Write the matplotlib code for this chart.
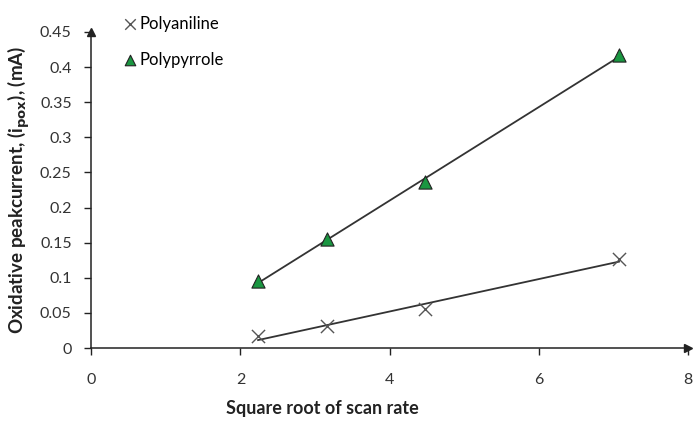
import numpy as np
import matplotlib
matplotlib.use("Agg")
import matplotlib.pyplot as plt

plt.rcParams["font.family"] = ["Lato", "DejaVu Sans"]

# square root of scan rate
sqrt_rate = [2.236, 3.162, 4.472, 7.071]
polyaniline = [0.017, 0.031, 0.055, 0.127]
polypyrrole = [0.095, 0.155, 0.236, 0.417]

x_ticks = [0, 2, 4, 6, 8]
y_ticks = [0, 0.05, 0.1, 0.15, 0.2, 0.25, 0.3, 0.35, 0.4, 0.45]
y_ticklabels = ["0", "0.05", "0.1", "0.15", "0.2", "0.25", "0.3", "0.35", "0.4", "0.45"]

fig = plt.figure(figsize=(6.96, 4.26), dpi=100)
ax = fig.add_axes([0.131, 0.183, 0.858, 0.742])

x = np.array(sqrt_rate)
xs = np.array([x.min(), x.max()])
for ys in (polyaniline, polypyrrole):
    k, b = np.polyfit(x, ys, 1)
    ax.plot(xs, k * xs + b, color="#333333", lw=1.3, zorder=2)

ax.scatter(sqrt_rate, polyaniline, marker="x", s=90, color="#555555",
           linewidths=1.0, zorder=3, label="Polyaniline")
ax.scatter(sqrt_rate, polypyrrole, marker="^", s=90, color="#1a9641",
           edgecolors="#222222", linewidths=0.8, zorder=3, label="Polypyrrole")

ax.set_xlim(0, 8)
ax.set_ylim(0, 0.45)
ax.set_xticks(x_ticks)
ax.set_yticks(y_ticks)
ax.set_yticklabels(y_ticklabels)
ax.tick_params(labelsize=11.5, direction="out", length=5, width=1, colors="#222222",
               labelcolor="#333333")
ax.tick_params(axis="x", pad=13)
ax.tick_params(axis="y", pad=9)

for side in ("top", "right"):
    ax.spines[side].set_visible(False)
for side in ("left", "bottom"):
    ax.spines[side].set_color("#222222")
    ax.spines[side].set_linewidth(1.1)

# arrow heads at axis ends
ax.plot(1, 0, ">", color="#222222", ms=6, transform=ax.transAxes, clip_on=False)
ax.plot(0, 1, "^", color="#222222", ms=6, transform=ax.transAxes, clip_on=False)

ax.set_xlabel("Square root of scan rate", fontsize=13, fontweight="bold",
              color="#222222")
ax.xaxis.set_label_coords(0.387, -0.165)
ax.set_ylabel(r"Oxidative peakcurrent, (i$_{\mathbf{pox}}$), (mA)", fontsize=13.5,
              fontweight="bold", labelpad=6, color="#222222")

fig.legend(loc="upper left", bbox_to_anchor=(0.153, 0.998), frameon=False,
           fontsize=12, handletextpad=0.1, labelspacing=1.2, markerscale=0.8,
           handlelength=1.0)

fig.savefig("out.png", dpi=100)
